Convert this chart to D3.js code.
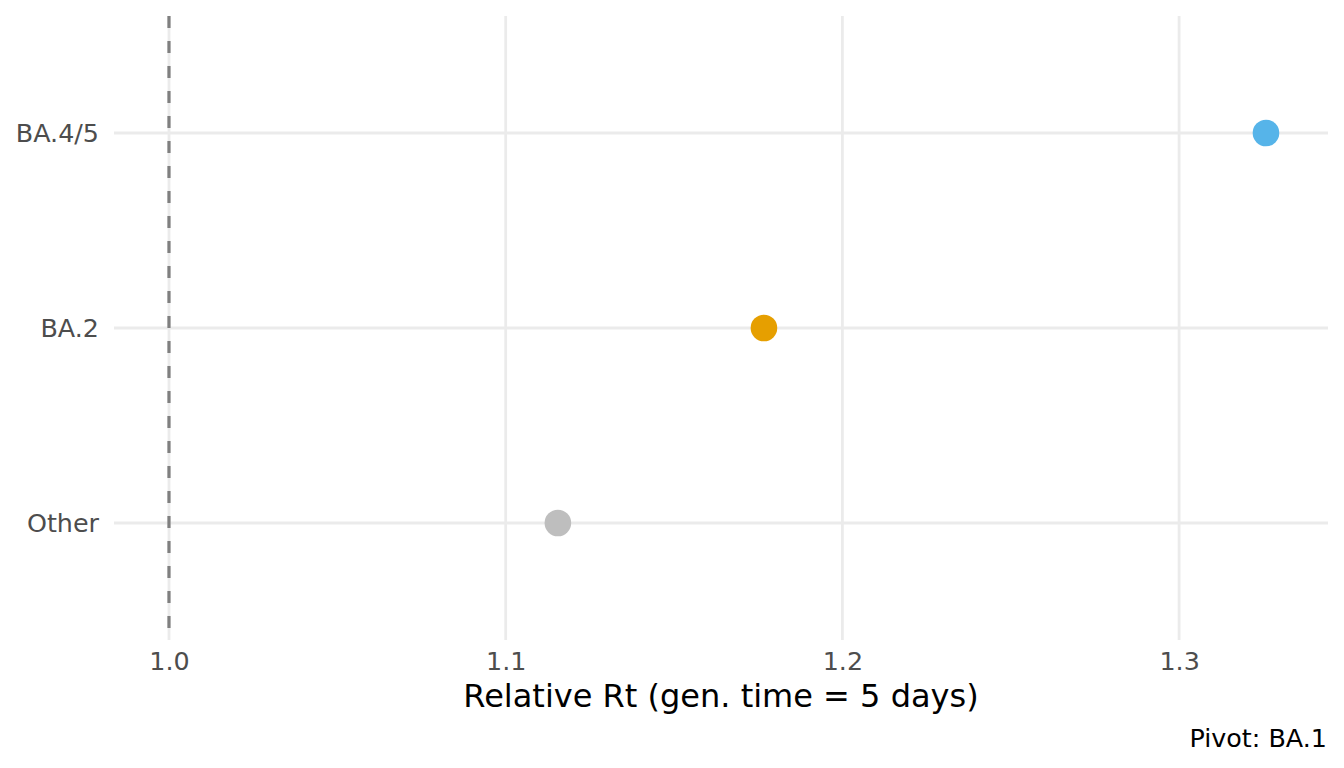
<!DOCTYPE html>
<html>
<head>
<meta charset="utf-8">
<script src="https://cdn.jsdelivr.net/npm/d3@7"></script>
<style>
  body { margin: 0; background: #fff; }
  text { font-family: "DejaVu Sans", sans-serif; }
</style>
</head>
<body>
<div id="chart"></div>
<script>
// data
const variants = ["BA.4/5", "BA.2", "Other"];
const relativeRt = [1.3258, 1.1767, 1.1155];
const colors = ["#56B4E9", "#E69F00", "#BEBEBE"];
const xTicks = [1.0, 1.1, 1.2, 1.3];
const pivotValue = 1.0;

const W = 1344, H = 768;
const margin = { top: 16, right: 16, bottom: 128, left: 114 };
const width = W - margin.left - margin.right;
const height = H - margin.top - margin.bottom;

const svg = d3.select("#chart").append("svg")
  .attr("width", W)
  .attr("height", H);

const g = svg.append("g")
  .attr("transform", `translate(${margin.left},${margin.top})`);

const x = d3.scaleLinear()
  .domain([0.98367, 1.34422])
  .range([0, width]);

const y = d3.scalePoint()
  .domain(variants)
  .range([0, height])
  .padding(0.6);

// grid lines
g.selectAll(".vgrid")
  .data(xTicks)
  .enter().append("line")
  .attr("x1", d => x(d)).attr("x2", d => x(d))
  .attr("y1", 0).attr("y2", height)
  .attr("stroke", "#EBEBEB")
  .attr("stroke-width", 2.8);

g.selectAll(".hgrid")
  .data(variants)
  .enter().append("line")
  .attr("x1", 0).attr("x2", width)
  .attr("y1", d => y(d)).attr("y2", d => y(d))
  .attr("stroke", "#EBEBEB")
  .attr("stroke-width", 2.8);

// axes (text only, like theme_minimal)
const xAxis = g.append("g")
  .attr("transform", `translate(0,${height})`)
  .call(d3.axisBottom(x).tickValues(xTicks).tickFormat(d3.format(".1f")).tickSize(0).tickPadding(12));
xAxis.select(".domain").remove();
xAxis.selectAll("text")
  .attr("fill", "#4D4D4D")
  .style("font-size", "25.4px")
  .style("font-family", "DejaVu Sans, sans-serif");

const yAxis = g.append("g")
  .call(d3.axisLeft(y).tickSize(0).tickPadding(15));
yAxis.select(".domain").remove();
yAxis.selectAll("text")
  .attr("fill", "#4D4D4D")
  .style("font-size", "25.4px")
  .style("font-family", "DejaVu Sans, sans-serif");

// pivot reference line
g.append("line")
  .attr("x1", x(pivotValue)).attr("x2", x(pivotValue))
  .attr("y1", 0).attr("y2", height - 3)
  .attr("stroke", "#7F7F7F")
  .attr("stroke-width", 3.2)
  .attr("stroke-dasharray", "12,13");

// points
g.selectAll(".dot")
  .data(variants)
  .enter().append("circle")
  .attr("cx", (d, i) => x(relativeRt[i]))
  .attr("cy", d => y(d))
  .attr("r", 13.3)
  .attr("fill", (d, i) => colors[i]);

// axis title
svg.append("text")
  .attr("x", margin.left + width / 2)
  .attr("y", 707)
  .attr("text-anchor", "middle")
  .attr("fill", "#000")
  .style("font-size", "32px")
  .text("Relative Rt (gen. time = 5 days)");

// caption
svg.append("text")
  .attr("x", W - 17)
  .attr("y", 747)
  .attr("text-anchor", "end")
  .attr("fill", "#000")
  .style("font-size", "25.4px")
  .text("Pivot: BA.1");
</script>
</body>
</html>
